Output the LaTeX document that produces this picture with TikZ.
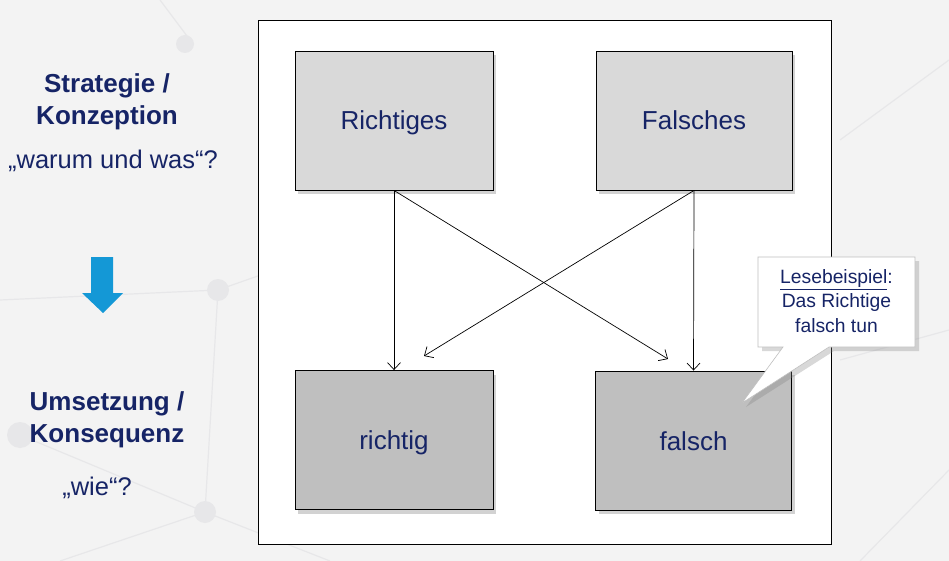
\documentclass[tikz,border=0pt]{standalone}
\usepackage{fontspec}
\setmainfont{Liberation Sans}
\usetikzlibrary{arrows.meta,shadows}
\definecolor{navy}{RGB}{22,36,102}
\definecolor{bg}{RGB}{243,243,243}
\definecolor{deco}{RGB}{231,231,233}
\definecolor{topfill}{RGB}{217,217,217}
\definecolor{botfill}{RGB}{191,191,191}
\definecolor{skyblue}{RGB}{20,152,214}
\tikzset{
  box/.style={draw=black, line width=0.9pt, minimum width=198pt, minimum height=139pt,
    inner sep=0pt, text=navy, font=\fontsize{26}{30}\selectfont, text height=19pt, text depth=0pt,
    drop shadow={shadow xshift=3pt, shadow yshift=-4pt, opacity=0.35}},
  topbox/.style={box, fill=topfill},
  botbox/.style={box, fill=botfill},
  conn/.style={draw=black, line width=0.7pt, -{Straight Barb[length=7pt,width=13pt,line width=0.7pt]}},
  lefthead/.style={text=navy, align=center, font=\bfseries\fontsize{26}{32}\selectfont},
  leftq/.style={text=navy, align=center, font=\fontsize{25.5}{30}\selectfont},
  decoline/.style={draw=deco, line width=1.2pt},
  decodot/.style={fill=deco},
}
\begin{document}
\begin{tikzpicture}[x=1pt,y=-1pt]
\useasboundingbox (0,0) rectangle (949,561);
\fill[bg] (0,0) rectangle (949,561);
% faint network background
\draw[decoline] (0,300) -- (218,290) -- (360,240);
\draw[decoline] (218,290) -- (205,512) -- (60,561);
\draw[decoline] (20,435) -- (205,512) -- (330,561);
\draw[decoline] (840,140) -- (949,60);
\draw[decoline] (840,360) -- (949,330);
\draw[decoline] (860,561) -- (949,470);
\draw[decoline] (160,0) -- (190,40);
\fill[decodot] (218,290) circle (11);
\fill[decodot] (205,512) circle (11);
\fill[decodot] (20,435) circle (13);
\fill[decodot] (185,44) circle (9);
% frame
\node[draw=black, fill=white, line width=0.9pt, minimum width=573pt, minimum height=524pt, inner sep=0pt] (frame) at (544.5,282) {};
% boxes
\node[topbox] (R) at (394,120.5) {Richtiges};
\node[topbox, minimum width=196pt] (F) at (694,120.5) {Falsches};
\node[botbox] (r) at (394,440) {richtig};
\node[botbox, minimum width=196pt] (f) at (693.5,440.5) {falsch};
% connectors
\coordinate (e1) at (668,359);
\coordinate (e2) at (424,356);
\draw[conn] (R.south) -- (r.north);
\draw[conn] (R.south) -- (e1);
\draw[conn] (F.south) -- (f.north);
\draw[conn] (F.south) -- (e2);
% callout
\coordinate (tip) at (742,403);
\fill[gray, opacity=0.3] (762,261) -- (919,261) -- (919,351) -- (834,351) -- (746,407) -- (787,351) -- (762,351) -- cycle;
\filldraw[fill=white, draw=black!25, line width=0.6pt] (758,257) -- (915,257) -- (915,347) -- (829,347) -- (tip) -- (783,347) -- (758,347) -- cycle;
\node[text=navy, align=center, font=\fontsize{19.3}{24.5}\selectfont] (cb) at (836.5,301) {\underline{Lesebeispiel}:\\Das Richtige\\falsch tun};
% left texts
\node[lefthead] (s1) at (107,102) {Strategie /\\Konzeption};
\node[leftq] (q1) at (113,161) {„warum und was“?};
\node[lefthead] (s2) at (107,420) {Umsetzung /\\Konsequenz};
\node[leftq] (q2) at (97,488) {„wie“?};
% blue arrow
\fill[skyblue] (91,257) -- (113,257) -- (113,293) -- (123,293) -- (103,313) -- (82,293) -- (91,293) -- cycle;
\end{tikzpicture}
\end{document}
